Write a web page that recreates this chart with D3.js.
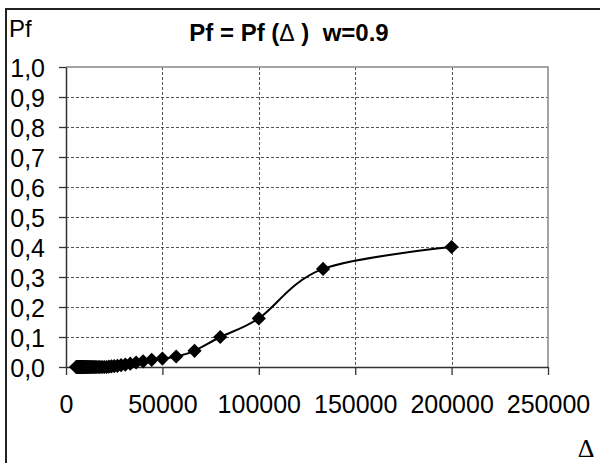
<!DOCTYPE html>
<html><head><meta charset="utf-8">
<script src="https://cdn.jsdelivr.net/npm/d3@7"></script>
<style>body{margin:0;background:#fff} svg{display:block} text{font-family:"Liberation Sans",Arial,sans-serif;fill:#000}</style>
</head><body><svg id="c" width="600" height="463"></svg>
<script>
const deltaValues = [200000,133333,100000,80000,66667,57143,50000,44444,40000,36364,
  33333,30769,28571,26667,25000,23529,22222,21053,20000,19048,
  18182,17391,16667,16000,15385,14815,14286,13793,13333,12903,
  12500,12121,11765,11429,11111,10811,10526,10256,10000,9756,
  9524,9302,9091,8889,8696,8511,8333,8163,8000,7843,
  7692,7547,7407,7273,7143,7018,6897,6780,6667,6557,
  6452,6349,6250,6154,6061,5970,5882,5797,5714,5634,
  5556,5479,5405,5333];
const pfValues = [0.40,0.327,0.162,0.100,0.054,0.035,0.028,0.024,0.019,0.015,
  0.011,0.008,0.006,0.004,0.003,0.002,0.001,0,0,0,
  0,0,0,0,0,0,0,0,0,0,
  0,0,0,0,0,0,0,0,0,0,
  0,0,0,0,0,0,0,0,0,0,
  0,0,0,0,0,0,0,0,0,0,
  0,0,0,0,0,0,0,0,0,0,
  0,0,0,0];
const xTicks = [0,50000,100000,150000,200000,250000];
const xTickLabels = ["0","50000","100000","150000","200000","250000"];
const yTicks = [0,0.1,0.2,0.3,0.4,0.5,0.6,0.7,0.8,0.9,1.0];
const yTickLabels = ["0,0","0,1","0,2","0,3","0,4","0,5","0,6","0,7","0,8","0,9","1,0"];
const titleParts = ["Pf = Pf (", "\u0394", "\u00A0)\u00A0\u00A0w=0.9"];
const yTitle = "Pf";
const xTitle = "\u0394";

const svg = d3.select("#c");
const L = 66, R = 548, T = 67, B = 367;
const x = d3.scaleLinear().domain([0,250000]).range([L,R]);
const y = d3.scaleLinear().domain([0,1]).range([B,T]);

// outer frame
svg.append("rect").attr("x",6).attr("y",9).attr("width",620).attr("height",480)
  .attr("fill","none").attr("stroke","#222").attr("stroke-width",2);

// grid
const grid = svg.append("g").attr("stroke","#555").attr("stroke-width",1).attr("stroke-dasharray","3,2");
grid.selectAll("line.h").data(yTicks.filter(v=>v>0&&v<1)).join("line").attr("class","h")
  .attr("x1",L).attr("x2",R).attr("y1",d=>Math.round(y(d))+0.5).attr("y2",d=>Math.round(y(d))+0.5);
grid.selectAll("line.v").data(xTicks.filter(v=>v>0&&v<250000)).join("line").attr("class","v")
  .attr("y1",T).attr("y2",B).attr("x1",d=>Math.round(x(d))+0.5).attr("x2",d=>Math.round(x(d))+0.5);

// plot border top/right
svg.append("path").attr("d",`M${L},${T}H${R}V${B}`).attr("fill","none").attr("stroke","#888").attr("stroke-width",1.5);

// axes
const yAxis = d3.axisLeft(y).tickValues(yTicks).tickSize(7).tickSizeOuter(0).tickPadding(14)
  .tickFormat((d,i)=>yTickLabels[i]);
const gy = svg.append("g").attr("transform",`translate(${L},0)`).call(yAxis);
gy.selectAll("text").attr("font-size",25).attr("dy","0.39em");
const xAxis = d3.axisBottom(x).tickValues(xTicks).tickSize(8).tickSizeOuter(0).tickPadding(20)
  .tickFormat((d,i)=>xTickLabels[i]);
const gx = svg.append("g").attr("transform",`translate(0,${B})`).call(xAxis);
gx.selectAll("text").attr("font-size",25);
[gx,gy].forEach(g=>{g.select(".domain").attr("stroke","#333").attr("stroke-width",1.5);
  g.selectAll(".tick line").attr("stroke","#333").attr("stroke-width",1.3);
  g.attr("font-family",null);
  g.selectAll(".tick text").attr("fill","#000");});

// data
const pts = deltaValues.map((d,i)=>({d, p:pfValues[i]})).filter(o=>o.p!==undefined).sort((a,b)=>a.d-b.d);
const line = d3.line().x(o=>x(o.d)).y(o=>y(o.p)).curve(d3.curveCardinal.tension(0));
svg.append("path").attr("class","curve").datum(pts).attr("d",line).attr("fill","none").attr("stroke","#000").attr("stroke-width",2);
const s = 7.1;
svg.selectAll("path.m").data(pts).join("path").attr("class","m")
  .attr("transform",o=>`translate(${x(o.d)},${y(o.p)})`)
  .attr("d",`M0,${-s}L${s},0L0,${s}L${-s},0Z`).attr("fill","#000");

// texts
const tt = svg.append("text").attr("x",289).attr("y",40.5).attr("text-anchor","middle")
  .attr("font-size",24).attr("font-weight","bold");
tt.append("tspan").text(titleParts[0]);
tt.append("tspan").attr("font-weight","normal").attr("font-size",23).text(titleParts[1]);
tt.append("tspan").text(titleParts[2]);
svg.append("text").attr("x",9).attr("y",36.5).attr("font-size",24).text(yTitle);
svg.append("text").attr("x",586).attr("y",457).attr("text-anchor","middle")
  .attr("font-size",26).style("font-family","'Liberation Serif', 'Times New Roman', serif").text(xTitle);
</script></body></html>
